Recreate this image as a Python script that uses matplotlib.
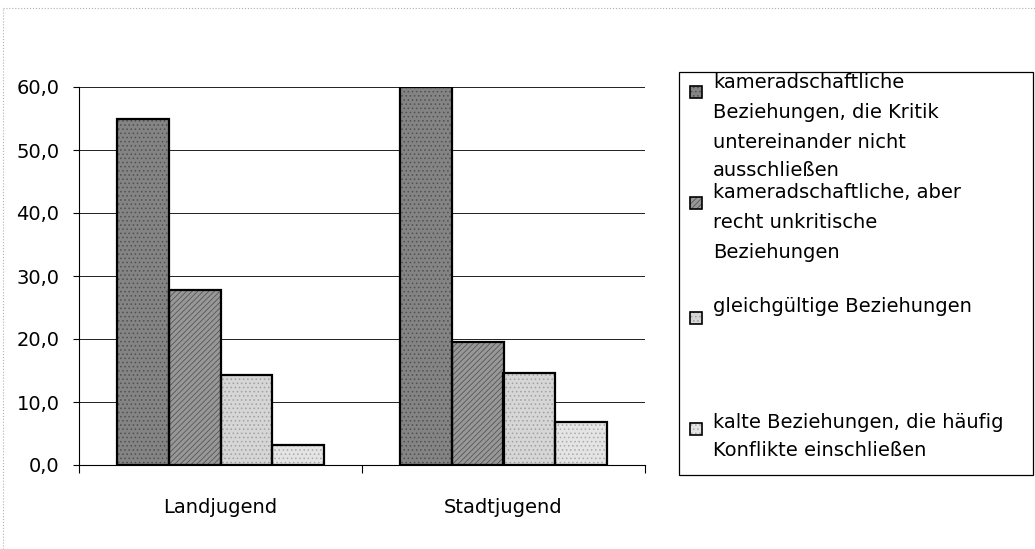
import matplotlib
matplotlib.use("Agg")
import numpy as np
import matplotlib.pyplot as plt
from matplotlib.patches import Rectangle
from matplotlib.lines import Line2D

plt.rcParams['font.family'] = ['DejaVu Sans']
plt.rcParams['hatch.linewidth'] = 0.6

# data
groups = ["Landjugend", "Stadtjugend"]
series_labels = [
    ["kameradschaftliche", "Beziehungen, die Kritik", "untereinander nicht", "ausschließen"],
    ["kameradschaftliche, aber", "recht unkritische", "Beziehungen"],
    ["gleichgültige Beziehungen"],
    ["kalte Beziehungen, die häufig", "Konflikte einschließen"],
]
land = [55.0, 27.7, 14.3, 3.2]
stadt = [60.0, 19.6, 14.6, 6.9]
yticks = [0, 10, 20, 30, 40, 50, 60]
ytick_labels = ["0,0", "10,0", "20,0", "30,0", "40,0", "50,0", "60,0"]

# grey fills + pattern for each series (scan look)
faces = ["#848484", "#989898", "#d6d6d6", "#e4e4e4"]
hatch_cols = ["#505050", "#555555", "#a0a0a0", "#aaaaaa"]
hatches = ["....", "//////", "....", "...."]

W, H = 1035, 549
fig = plt.figure(figsize=(W / 100, H / 100), dpi=100)

def fx(px):
    return px / W

def fy(py):
    return 1 - py / H

ax = fig.add_axes([fx(79), fy(465), fx(645) - fx(79), fy(87) - fy(465)])

vals = np.array([land, stadt])
x = np.arange(len(groups))
bw = 0.183
offs = (np.arange(4) - 1.5) * bw
for i in range(4):
    ax.bar(x + offs[i], vals[:, i], bw, color=faces[i], hatch=hatches[i],
           edgecolor=hatch_cols[i], linewidth=0, zorder=3)
    ax.bar(x + offs[i], vals[:, i], bw, fill=False, edgecolor="black",
           linewidth=1.6, zorder=4)

ax.set_xlim(-0.5, 1.5)
ax.set_ylim(0, 60)
ax.set_yticks(yticks)
ax.set_yticklabels(ytick_labels)
ax.set_xticks(x)
ax.set_xticklabels(groups)
ax.set_xticks([-0.5, 0.5, 1.5], minor=True)
ax.tick_params(axis="x", which="major", length=0, pad=24, labelsize=14)
ax.tick_params(axis="x", which="minor", length=6, width=0.8, direction="out")
ax.tick_params(axis="y", length=4, width=0.8, pad=10, labelsize=14)
ax.grid(axis="y", color="#202020", linewidth=0.7, zorder=0)
ax.set_axisbelow(True)
for s in ["top", "right"]:
    ax.spines[s].set_visible(False)
ax.spines["left"].set_linewidth(0.8)
ax.spines["bottom"].set_linewidth(0.8)

# legend box drawn by hand to keep the uneven spacing of the original
fig.patches.append(Rectangle((fx(679), fy(475)), fx(1033) - fx(679), fy(72) - fy(475),
                             transform=fig.transFigure, fill=False,
                             edgecolor="black", linewidth=0.9))
entry_y = [92, 203, 318, 429]
line_y = [[82, 112, 142, 170], [193, 223, 253], [307], [422, 451]]
for i in range(4):
    fig.patches.append(Rectangle((fx(690), fy(entry_y[i] + 6)), fx(12), 12 / H,
                                 transform=fig.transFigure, facecolor=faces[i],
                                 hatch=hatches[i], edgecolor=hatch_cols[i], linewidth=0))
    fig.patches.append(Rectangle((fx(690), fy(entry_y[i] + 6)), fx(12), 12 / H,
                                 transform=fig.transFigure, fill=False,
                                 edgecolor="black", linewidth=1.2))
    for txt, yy in zip(series_labels[i], line_y[i]):
        fig.text(fx(713), fy(yy), txt, fontsize=14, va="center", ha="left")

# faint dotted frame of the scanned page
fig.add_artist(Line2D([fx(3), fx(3)], [0, fy(8)], transform=fig.transFigure,
                      color="#b0b0b0", linewidth=0.8, linestyle=":"))
fig.add_artist(Line2D([fx(3), 1], [fy(8), fy(8)], transform=fig.transFigure,
                      color="#b0b0b0", linewidth=0.8, linestyle=":"))

fig.savefig("out.png", dpi=100)
